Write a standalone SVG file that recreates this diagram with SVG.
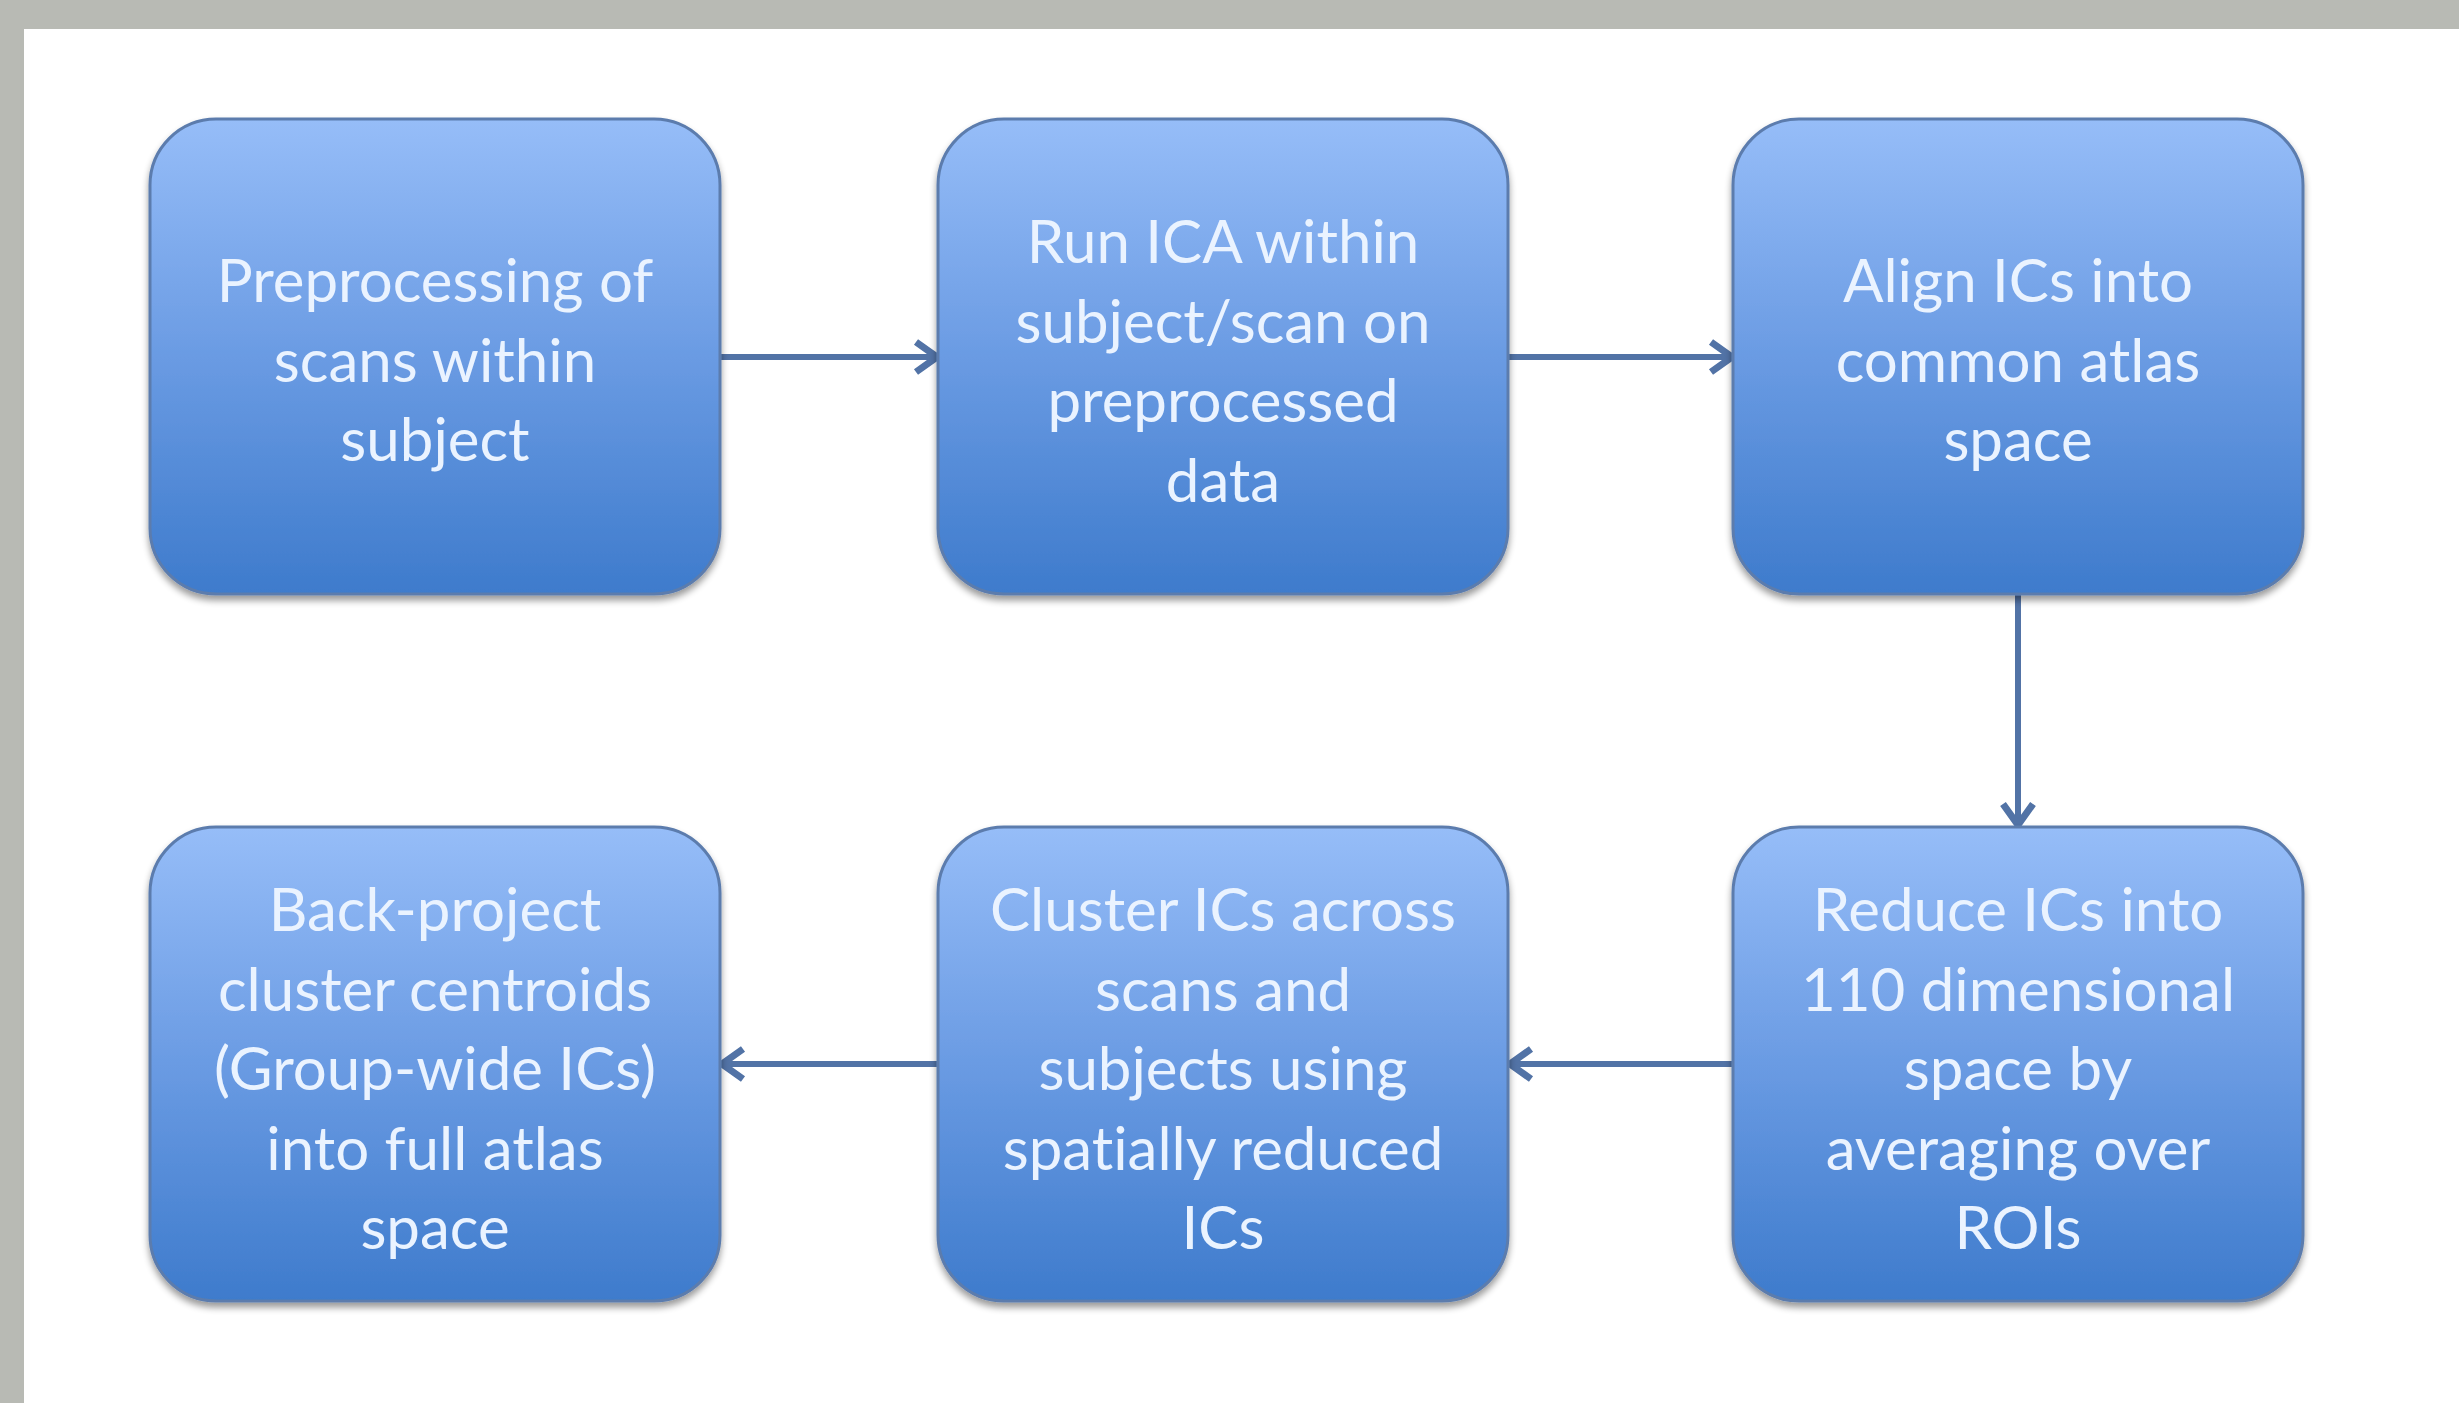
<svg xmlns="http://www.w3.org/2000/svg" width="2459" height="1403" viewBox="0 0 2459 1403">
<defs>
<linearGradient id="boxGrad" x1="0" y1="0" x2="0" y2="1">
<stop offset="0" stop-color="#96bdf8"/>
<stop offset="0.5" stop-color="#6a9be3"/>
<stop offset="1" stop-color="#3e7bcc"/>
</linearGradient>
<filter id="shadow" x="-10%" y="-10%" width="120%" height="125%">
<feGaussianBlur in="SourceAlpha" stdDeviation="3.5"/>
<feOffset dx="0" dy="5" result="b"/>
<feComponentTransfer in="b" result="s"><feFuncA type="linear" slope="0.4"/></feComponentTransfer>
<feMerge><feMergeNode in="s"/><feMergeNode in="SourceGraphic"/></feMerge>
</filter>
<marker id="arrow" viewBox="0 0 32 40" refX="28" refY="20" markerUnits="userSpaceOnUse" markerWidth="32" markerHeight="40" orient="auto">
<path d="M6,5 L27,20 L6,35" fill="none" stroke="#5273a6" stroke-width="7" stroke-linejoin="miter"/>
</marker>
</defs>
<style>
.box{fill:url(#boxGrad);stroke:#5b7cad;stroke-width:3;filter:url(#shadow);}
.lbl{font-family:Lato,"Open Sans","Liberation Sans",sans-serif;font-size:60px;fill:#eaf3ff;text-anchor:middle;font-variant-ligatures:none;}
.conn{stroke:#5273a6;stroke-width:6;fill:none;marker-end:url(#arrow);}
</style>
<rect x="0" y="0" width="2459" height="1403" fill="#ffffff"/>
<rect x="0" y="0" width="2459" height="29" fill="#b8bab4"/>
<rect x="0" y="0" width="24" height="1403" fill="#b8bab4"/>
<g id="connectors">
<line class="conn" x1="721" y1="357" x2="938" y2="357"/>
<line class="conn" x1="1509" y1="357" x2="1733" y2="357"/>
<line class="conn" x1="2018" y1="595" x2="2018" y2="826"/>
<line class="conn" x1="1733" y1="1064" x2="1509" y2="1064"/>
<line class="conn" x1="938" y1="1064" x2="721" y2="1064"/>
</g>
<g id="node1">
<rect class="box" x="150" y="119" width="570" height="475" rx="66" ry="66"/>
<text class="lbl" x="435" y="302"><tspan x="435">Preprocessing of</tspan><tspan x="435" dy="79.5">scans within</tspan><tspan x="435" dy="79.5">subject</tspan></text>
</g>
<g id="node2">
<rect class="box" x="938" y="119" width="570" height="475" rx="66" ry="66"/>
<text class="lbl" x="1223" y="263"><tspan x="1223">Run ICA within</tspan><tspan x="1223" dy="79.5">subject/scan on</tspan><tspan x="1223" dy="79.5">preprocessed</tspan><tspan x="1223" dy="79.5">data</tspan></text>
</g>
<g id="node3">
<rect class="box" x="1733" y="119" width="570" height="475" rx="66" ry="66"/>
<text class="lbl" x="2018" y="302"><tspan x="2018">Align ICs into</tspan><tspan x="2018" dy="79.5">common atlas</tspan><tspan x="2018" dy="79.5">space</tspan></text>
</g>
<g id="node6">
<rect class="box" x="1733" y="827" width="570" height="474" rx="66" ry="66"/>
<text class="lbl" x="2018" y="931"><tspan x="2018">Reduce ICs into</tspan><tspan x="2018" dy="79.5">110 dimensional</tspan><tspan x="2018" dy="79.5">space by</tspan><tspan x="2018" dy="79.5">averaging over</tspan><tspan x="2018" dy="79.5">ROIs</tspan></text>
</g>
<g id="node5">
<rect class="box" x="938" y="827" width="570" height="474" rx="66" ry="66"/>
<text class="lbl" x="1223" y="931"><tspan x="1223">Cluster ICs across</tspan><tspan x="1223" dy="79.5">scans and</tspan><tspan x="1223" dy="79.5">subjects using</tspan><tspan x="1223" dy="79.5">spatially reduced</tspan><tspan x="1223" dy="79.5">ICs</tspan></text>
</g>
<g id="node4">
<rect class="box" x="150" y="827" width="570" height="474" rx="66" ry="66"/>
<text class="lbl" x="435" y="931"><tspan x="435">Back-project</tspan><tspan x="435" dy="79.5">cluster centroids</tspan><tspan x="435" dy="79.5">(Group-wide ICs)</tspan><tspan x="435" dy="79.5">into full atlas</tspan><tspan x="435" dy="79.5">space</tspan></text>
</g>
</svg>
